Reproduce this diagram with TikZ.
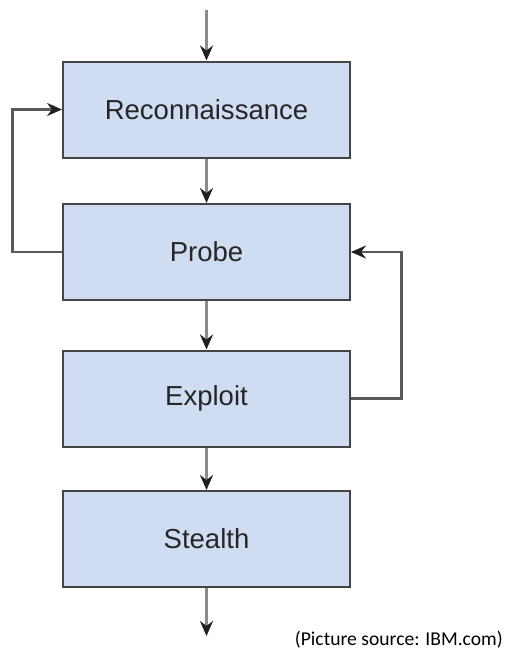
\documentclass[tikz,border=0pt]{standalone}
\usepackage{fontspec}
\setmainfont{Liberation Sans}
\newfontfamily\capfont{Carlito}
\usetikzlibrary{arrows.meta}
\definecolor{boxfill}{HTML}{CFDCF1}
\definecolor{boxline}{HTML}{454545}
\definecolor{flowline}{HTML}{8A8A8A}
\definecolor{loopline}{HTML}{5A5A5A}
\definecolor{headcol}{HTML}{202020}
\tikzset{
  x=1pt, y=-1pt,
  stagebox/.style={draw=boxline, line width=2pt, fill=boxfill, minimum width=287pt, minimum height=96pt, inner sep=0pt, font=\fontsize{27.5}{30}\selectfont, text=black!85},
  flowarrow/.style={draw=flowline, line width=2.6pt, -{Stealth[length=15pt, width=13pt, inset=5pt, color=headcol]}},
  looparrow/.style={draw=loopline, line width=2.2pt, -{Stealth[length=15pt, width=13pt, inset=5pt, color=headcol]}}
}
\begin{document}
\begin{tikzpicture}
\useasboundingbox (0,0) rectangle (504,653);
\node[stagebox] (rec) at (206.5,109.5) {Reconnaissance};
\node[stagebox] (probe) at (206.5,252) {Probe};
\node[stagebox] (expl) at (206.5,398.5) {Exploit};
\node[stagebox] (stealth) at (206.5,539) {Stealth};
\coordinate (top) at (206.5,10);
\coordinate (bottom) at (206.5,636);
\coordinate (lft) at (12.5,0);
\coordinate (rgt) at (401.5,0);
\draw[flowarrow] (top) -- (rec.north);
\draw[flowarrow] (rec.south) -- (probe.north);
\draw[flowarrow] (probe.south) -- (expl.north);
\draw[flowarrow] (expl.south) -- (stealth.north);
\draw[flowarrow] (stealth.south) -- (bottom);
\draw[looparrow] (probe.west) -| (lft |- probe.west) |- (rec.west);
\draw[looparrow] (expl.east) -| (rgt |- expl.east) |- (probe.east);
\node[anchor=south east, inner sep=0pt, font=\capfont\fontsize{19.6}{22}\selectfont, text=black] (cap) at (503,648) {(Picture source: IBM.com)};
\end{tikzpicture}
\end{document}
